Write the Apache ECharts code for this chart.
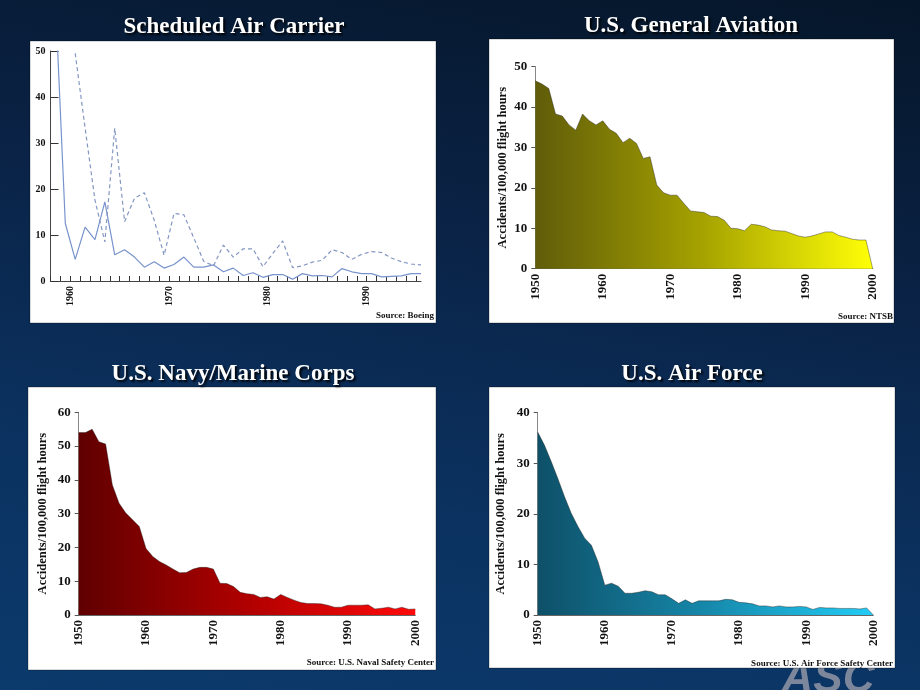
<!DOCTYPE html>
<html><head><meta charset="utf-8">
<script src="https://cdn.jsdelivr.net/npm/echarts@6/dist/echarts.min.js"></script>
<style>
html,body{margin:0;padding:0;background:#0a2448;}
#c{width:920px;height:690px;background:linear-gradient(190deg,#051629 0%,#0a2245 35%,#0b3260 70%,#0b3a6c 100%);}
</style>
</head><body><div id="c"></div>
<script>
// ---------- DATA ----------
const carrierYears = [1958,1959,1960,1961,1962,1963,1964,1965,1966,1967,1968,1969,1970,1971,1972,1973,1974,1975,1976,1977,1978,1979,1980,1981,1982,1983,1984,1985,1986,1987,1988,1989,1990,1991,1992,1993,1994,1995];
const carrierSolid = [61,12.5,4.7,11.7,9,17.2,5.7,6.8,5.2,3,4.2,2.8,3.6,5.2,3,3,3.5,2,2.8,1.2,1.8,0.8,1.4,1.4,0.4,1.6,1.1,1.2,0.9,2.7,2,1.6,1.6,0.9,1,1.1,1.6,1.6];
const carrierDashed = [null,null,49.5,33.3,17.6,8.5,33.2,12.9,18,19.2,13.2,5.6,14.7,14.4,9.4,4.3,3.3,7.8,5.2,7,7,3.1,6,8.7,2.9,3.3,4.1,4.5,6.8,6.2,4.7,5.8,6.4,6.2,5,4.2,3.7,3.5];

const years = [1950,1951,1952,1953,1954,1955,1956,1957,1958,1959,1960,1961,1962,1963,1964,1965,1966,1967,1968,1969,1970,1971,1972,1973,1974,1975,1976,1977,1978,1979,1980,1981,1982,1983,1984,1985,1986,1987,1988,1989,1990,1991,1992,1993,1994,1995,1996,1997,1998,1999,2000];
const generalAviation = [46.5,45.7,44.6,38.3,37.8,35.6,34.3,38.3,36.6,35.6,36.6,34.5,33.5,31.2,32.3,31,27.3,27.7,20.7,18.8,18.2,18.2,16.2,14.3,14.1,13.9,13,12.9,12,10,9.9,9.4,11,10.8,10.4,9.6,9.4,9.3,8.7,8.1,7.8,8.1,8.6,9.1,9.1,8.2,7.8,7.3,7.1,7.1,0];
const navyMarine = [54,54,55,51.3,50.6,38.5,33.1,30.2,28.2,26.2,19.7,17.3,15.8,14.8,13.6,12.5,12.6,13.6,14.1,14.1,13.6,9.4,9.3,8.4,6.7,6.3,6.1,5.2,5.4,4.7,6.1,5.2,4.4,3.7,3.4,3.4,3.3,2.9,2.3,2.3,2.9,2.9,2.9,3.0,1.8,2.0,2.3,1.8,2.3,1.7,1.8];
const airForce = [36.2,33.6,30.4,27,23.4,20.1,17.5,15.2,13.8,10.5,5.9,6.3,5.7,4.3,4.3,4.5,4.8,4.6,4.0,4.0,3.2,2.3,3.0,2.3,2.8,2.8,2.8,2.8,3.1,3.0,2.5,2.4,2.2,1.8,1.8,1.6,1.8,1.6,1.6,1.7,1.6,1.1,1.5,1.4,1.4,1.3,1.3,1.3,1.2,1.4,0];

const titles = ['Scheduled Air Carrier','U.S. General Aviation','U.S. Navy/Marine Corps','U.S. Air Force'];
const sources = ['Source: Boeing','Source: NTSB','Source: U.S. Naval Safety Center','Source: U.S. Air Force Safety Center'];
const yName = 'Accidents/100,000 flight hours';

// ---------- CHART ----------
const FONT = "'Liberation Serif','Times New Roman',serif";
const chart = echarts.init(document.getElementById('c'), null, {renderer:'canvas'});

const panels = [
  {x:30, y:41, w:406, h:282},
  {x:489, y:39, w:405, h:284},
  {x:28, y:387, w:408, h:283},
  {x:489, y:387, w:406, h:281}
];
const grids = [
  {left:50.5, top:51, width:370.5, height:230},
  {left:535.3, top:66.7, width:337.4, height:202},
  {left:78.7, top:412.3, width:336.6, height:202.7},
  {left:537.7, top:412.7, width:335.6, height:202.3}
];
const titlePos = [{x:234,y:16},{x:691,y:15},{x:233,y:363},{x:692,y:363}];

function grad(stops){
  return new echarts.graphic.LinearGradient(0,0,1,0,stops.map((c,i)=>({offset:i/(stops.length-1), color:c})));
}
const labelStyle = {color:'#111', fontWeight:'bold', fontFamily:FONT};

const xAxes = [
  {gridIndex:0, type:'value', min:1958, max:1995.5, interval:1,
   axisLine:{lineStyle:{color:'#444', width:1}},
   axisTick:{inside:true, length:5, lineStyle:{color:'#333'}},
   splitLine:{show:false},
   axisLabel:Object.assign({rotate:90, fontSize:10, margin:5, showMaxLabel:false,
     formatter:v => (v % 10 === 0 ? String(v) : '')}, labelStyle)}
];
const yAxes = [
  {gridIndex:0, type:'value', min:0, max:50, interval:10,
   axisLine:{show:true, lineStyle:{color:'#444'}},
   axisTick:{show:true, inside:true, length:8, lineStyle:{color:'#333'}},
   splitLine:{show:false},
   axisLabel:Object.assign({fontSize:10, margin:5}, labelStyle)}
];
const yMax = [50, 60, 40];
const nameGaps = [26, 29, 30];
for (let i = 1; i <= 3; i++) {
  xAxes.push({gridIndex:i, type:'value', min:1950, max:2000, interval:10,
    axisLine:{lineStyle:{color:'#666'}}, axisTick:{show:false}, splitLine:{show:false},
    axisLabel:Object.assign({rotate:90, fontSize:13, margin:5, formatter:v => String(v)}, labelStyle)});
  yAxes.push({gridIndex:i, type:'value', min:0, max:yMax[i-1], interval:10,
    name:yName, nameLocation:'middle', nameGap:nameGaps[i-1],
    nameTextStyle:{fontSize:12.5, fontWeight:'bold', color:'#111', fontFamily:FONT},
    axisLine:{show:true, lineStyle:{color:'#888'}},
    axisTick:{show:true, length:4, lineStyle:{color:'#555'}},
    splitLine:{show:false},
    axisLabel:Object.assign({fontSize:13, margin:8}, labelStyle)});
}

function areaSeries(idx, vals, stops){
  return {type:'line', xAxisIndex:idx, yAxisIndex:idx, showSymbol:false, symbol:'none',
    data: years.map((y,i)=>[y, vals[i]]),
    lineStyle:{width:0.8, color:'rgba(30,30,30,0.5)'},
    areaStyle:{color:grad(stops), opacity:1}, z:2};
}

const series = [
  {type:'line', xAxisIndex:0, yAxisIndex:0, symbol:'none', clip:true,
   data: carrierYears.map((y,i)=>[y+0.5, carrierSolid[i]]),
   lineStyle:{color:'#7893cc', width:1.2}},
  {type:'line', xAxisIndex:0, yAxisIndex:0, symbol:'none', clip:true, connectNulls:false,
   data: carrierYears.map((y,i)=>[y+0.5, carrierDashed[i]]),
   lineStyle:{color:'#8496c2', width:1.2, type:[4,3]}},
  areaSeries(1, generalAviation, ['#605c0a','#a6a300','#ffff08']),
  areaSeries(2, navyMarine, ['#600000','#b00000','#ff0a0a']),
  areaSeries(3, airForce, ['#0e5068','#1688aa','#22ccf6'])
];

const graphics = [];
graphics.push({type:'text', z:-20, style:{text:'ASC', x:828, y:702, align:'center', verticalAlign:'bottom',
  font:"italic bold 44px 'Liberation Sans',sans-serif", fill:'#7d879c'}});
panels.forEach(p => graphics.push({type:'rect', z:-10, shape:{x:p.x, y:p.y, width:p.w, height:p.h},
  style:{fill:'#ffffff', stroke:'rgba(0,0,0,0.3)', lineWidth:1}}));
const srcPos = [{x:434,y:316},{x:893,y:317},{x:434,y:663},{x:893,y:664}];
sources.forEach((s,i) => graphics.push({type:'text', z:50, style:{text:s, x:srcPos[i].x, y:srcPos[i].y,
  align:'right', verticalAlign:'middle', font:"bold 9px 'Liberation Serif',serif", fill:'#111'}}));

chart.setOption({
  animation:false,
  backgroundColor:'transparent',
  title: titles.map((t,i)=>({text:t, left:titlePos[i].x, top:titlePos[i].y, textAlign:'center', padding:0,
    textStyle:{color:'#ffffff', fontSize:23, fontWeight:'bold', fontFamily:FONT,
      textShadowColor:'rgba(0,0,0,0.9)', textShadowOffsetX:2, textShadowOffsetY:2, textShadowBlur:2}})),
  grid: grids,
  xAxis: xAxes,
  yAxis: yAxes,
  series: series,
  graphic: graphics
});
</script>
</body></html>
